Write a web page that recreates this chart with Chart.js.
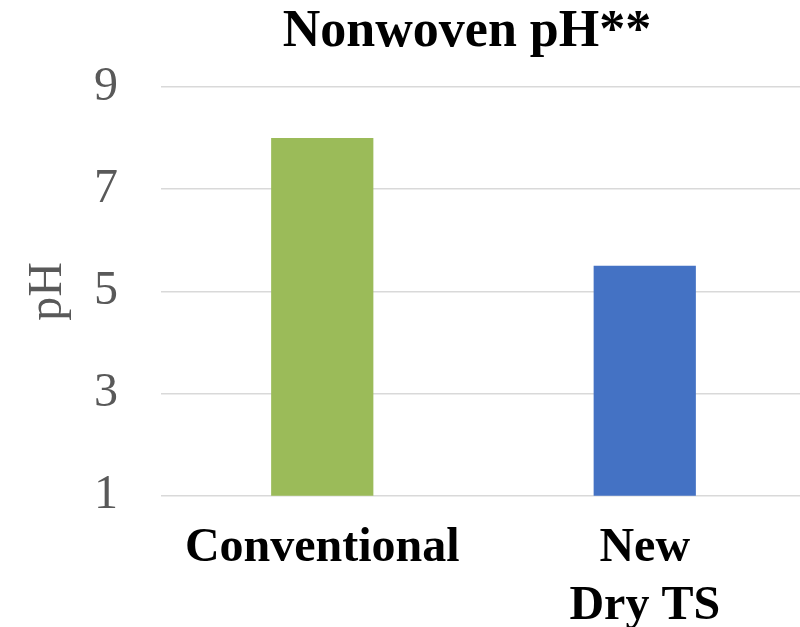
<!DOCTYPE html>
<html>
<head>
<meta charset="utf-8">
<script src="https://cdn.jsdelivr.net/npm/chart.js@4"></script>
<style>
  html, body { margin: 0; padding: 0; background: #fff; overflow: hidden; }
  #wrap { width: 800px; height: 627px; overflow: hidden; position: relative; }
  #box { width: 806px; height: 665px; position: absolute; left: 0; top: 0; }
</style>
</head>
<body>
<div id="wrap"><div id="box"><canvas id="c"></canvas></div></div>
<script>
// Nonwoven pH by process
const chartTitle = 'Nonwoven pH**';
const categories = ['Conventional', ['New', 'Dry TS']];
const phValues = [8.0, 5.5];
const barColors = ['#9BBB59', '#4472C4'];
const yTicks = [1, 3, 5, 7, 9];

const serif = '"Liberation Serif", "Times New Roman", serif';

// Title drawn at a fixed centre line, slightly left of the plot centre
const titlePlugin = {
  id: 'fixedTitle',
  afterDraw(chart) {
    const ctx = chart.ctx;
    ctx.save();
    ctx.font = 'bold 52px ' + serif;
    ctx.fillStyle = '#000';
    ctx.textAlign = 'center';
    ctx.textBaseline = 'middle';
    ctx.fillText(chartTitle, 467, 33);
    ctx.restore();
  }
};

new Chart(document.getElementById('c'), {
  type: 'bar',
  data: {
    labels: categories,
    datasets: [{
      data: phValues,
      backgroundColor: barColors,
      borderWidth: 0,
      categoryPercentage: 1,
      barPercentage: 0.317
    }]
  },
  options: {
    responsive: true,
    maintainAspectRatio: false,
    animation: false,
    layout: { padding: { left: 0, right: 0, top: 87, bottom: 6 } },
    plugins: {
      legend: { display: false },
      tooltip: { enabled: false },
      title: { display: false }
    },
    scales: {
      x: {
        grid: { display: false, drawTicks: false },
        border: { display: false },
        ticks: {
          color: '#000',
          padding: 24,
          maxRotation: 0,
          autoSkip: false,
          font: { family: serif, size: 48, weight: 'bold', lineHeight: 1.2 }
        }
      },
      y: {
        min: 1,
        max: 9,
        afterBuildTicks: (scale) => { scale.ticks = yTicks.map(v => ({ value: v })); },
        afterFit: (scale) => { scale.width = 161; },
        grid: { color: '#D9D9D9', lineWidth: 1.5, drawTicks: false },
        border: { display: false },
        ticks: {
          color: '#595959',
          padding: 43,
          font: { family: serif, size: 48 }
        },
        title: {
          display: true,
          text: 'pH',
          color: '#595959',
          font: { family: serif, size: 48, lineHeight: 1.2 },
          padding: { top: 20, bottom: 0 }
        }
      }
    }
  },
  plugins: [titlePlugin]
});
</script>
</body>
</html>
